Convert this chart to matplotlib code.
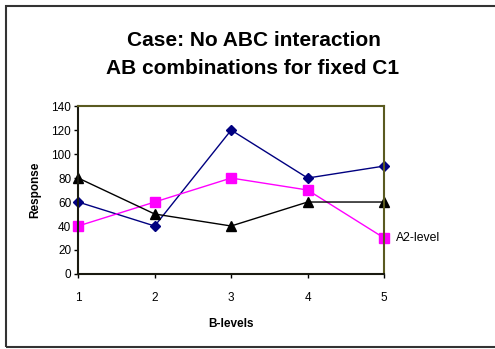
import matplotlib
matplotlib.use("Agg")
import matplotlib.pyplot as plt
from matplotlib.patches import Rectangle

plt.rcParams['font.family'] = ['Liberation Sans', 'DejaVu Sans']

b_levels = [1, 2, 3, 4, 5]
blue_vals = [60, 40, 120, 80, 90]
pink_vals = [40, 60, 80, 70, 30]
black_vals = [80, 50, 40, 60, 60]
yticks = [0, 20, 40, 60, 80, 100, 120, 140]

fig = plt.figure(figsize=(4.95, 3.49), dpi=100)
ax = fig.add_axes([0.158, 0.215, 0.618, 0.481])

ax.plot(b_levels, blue_vals, color='#000080', marker='D', markersize=5, lw=1, clip_on=False)
ax.plot(b_levels, pink_vals, color='#FF00FF', marker='s', markersize=7, lw=1, clip_on=False)
ax.plot(b_levels, black_vals, color='black', marker='^', markersize=7, lw=1, clip_on=False)

ax.set_xlim(1, 5)
ax.set_ylim(0, 140)
ax.set_xticks(b_levels)
ax.set_yticks(yticks)
ax.tick_params(labelsize=8.5, length=3, width=1, direction='out')
ax.tick_params(axis='x', pad=10)
ax.tick_params(axis='y', pad=2)
for s in ['top', 'right']:
    ax.spines[s].set_color('#5a5a20')
    ax.spines[s].set_linewidth(1.5)
for s in ['left', 'bottom']:
    ax.spines[s].set_color('#1a1a10')
    ax.spines[s].set_linewidth(1.5)

ax.set_xlabel('B-levels', fontsize=8.5, fontweight='bold', labelpad=10)
ax.set_ylabel('Response', fontsize=8.5, fontweight='bold', labelpad=7)

ax.text(1.04, 30, 'A2-level', transform=ax.get_yaxis_transform(), fontsize=8.8, va='center', ha='left')

fig.text(0.513, 0.885, 'Case: No ABC interaction', fontsize=15, fontweight='bold', ha='center', va='center')
fig.text(0.510, 0.805, 'AB combinations for fixed C1', fontsize=15, fontweight='bold', ha='center', va='center')

fig.patches.append(Rectangle((6 / 495, 2 / 349), 1.2, 1 - 8 / 349, transform=fig.transFigure,
                             fill=False, edgecolor='#333333', lw=1.5))

fig.savefig('out.png', dpi=100)
